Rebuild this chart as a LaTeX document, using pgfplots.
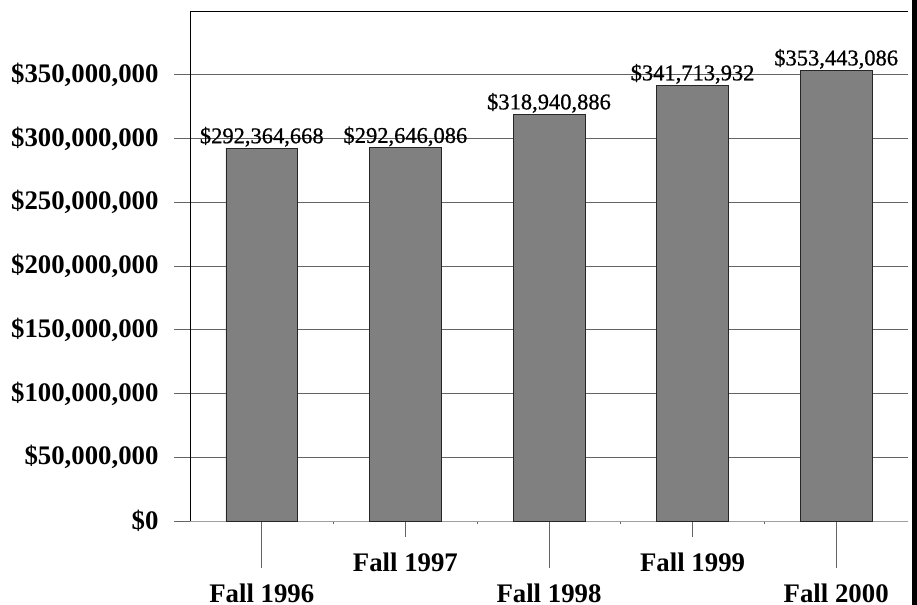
\documentclass[border=0pt]{standalone}
\usepackage{pgfplots}
\pgfplotsset{compat=1.18}
\usepackage{fontspec}
\setmainfont{Liberation Serif}
\newfontfamily\labfont[FakeBold=0.8]{Liberation Serif}
\definecolor{gridc}{RGB}{100,100,100}
\definecolor{barc}{RGB}{128,128,128}
\begin{document}
\begin{tikzpicture}
\begin{axis}[
  at={(190bp,84bp)}, anchor=south west,
  scale only axis, width=718bp, height=510bp,
  xmin=-0.5, xmax=4.5, ymin=0, ymax=400000000,
  axis x line=bottom, axis y line=left,
  x axis line style={-, draw=gray!75, line width=0.8bp},
  y axis line style={-, draw=black, line width=0.8bp},
  scaled y ticks=false,
  ytick={0,50000000,100000000,150000000,200000000,250000000,300000000,350000000},
  yticklabels={{\$0},{\$50,000,000},{\$100,000,000},{\$150,000,000},{\$200,000,000},{\$250,000,000},{\$300,000,000},{\$350,000,000}},
  ymajorgrids, grid style={draw=gridc, line width=0.8bp},
  tick align=outside,
  ytick style={draw=gridc, line width=0.8bp, /pgfplots/major tick length=16bp},
  yticklabel style={font=\fontsize{26.8bp}{32bp}\selectfont\bfseries, anchor=east, xshift=-27bp, inner sep=0pt},
  xtick={0,2,4},
  xticklabels={Fall 1996, Fall 1998, Fall 2000},
  xtick style={draw=gridc, line width=0.8bp, /pgfplots/major tick length=47bp, /pgfplots/minor tick length=3bp},
  minor xtick={0.5,1.5,2.5,3.5},
  xticklabel style={font=\fontsize{26.8bp}{32bp}\selectfont\bfseries, anchor=base, yshift=-77bp, inner sep=0pt, text depth=0pt},
  extra x ticks={1,3},
  extra x tick labels={Fall 1997, Fall 1999},
  extra x tick style={xtick style={/pgfplots/major tick length=16bp}, xticklabel style={yshift=31bp}},
  clip=false,
]
\addplot[ybar, fill=barc, draw=black!85, line width=0.8bp, bar width=0.5,
  nodes near coords, point meta=explicit symbolic,
  every node near coord/.append style={font=\fontsize{22.5bp}{27bp}\labfont, anchor=base, yshift=5bp, inner sep=0pt}]
  coordinates {
    (0,292364668) [\$292,364,668]
    (1,292646086) [\$292,646,086]
    (2,318940886) [\$318,940,886]
    (3,341713932) [\$341,713,932]
    (4,353443086) [\$353,443,086]
  };
\draw[black, line width=0.8bp] (rel axis cs:0,1) -- (rel axis cs:1,1);
\end{axis}
\fill[black] (912bp,0) rectangle (917bp,605bp);
\pgfresetboundingbox
\path[use as bounding box] (0,0) rectangle (917bp,605bp);
\end{tikzpicture}
\end{document}
